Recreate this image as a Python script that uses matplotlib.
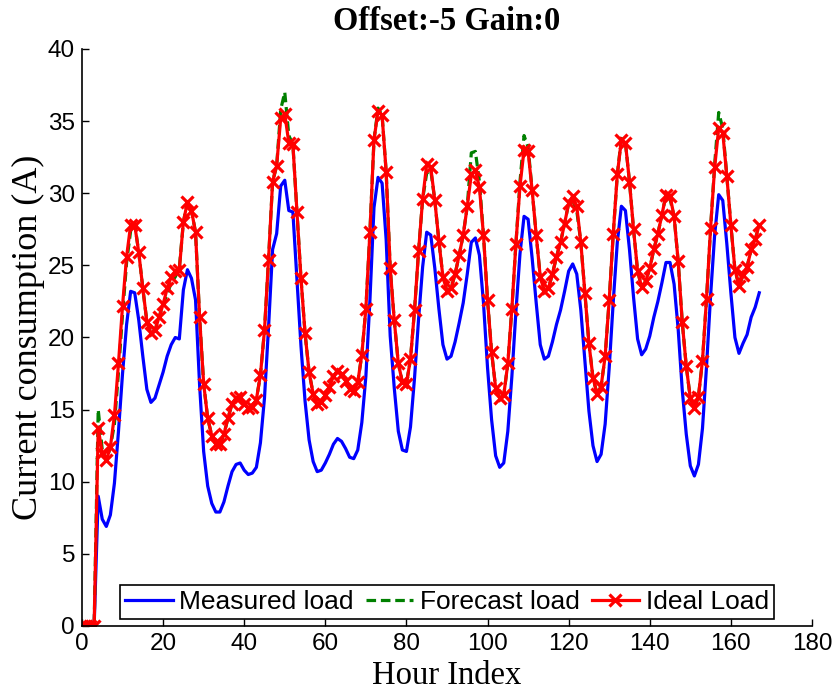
import numpy as np
import matplotlib
matplotlib.use('Agg')
import matplotlib.pyplot as plt

# hourly readings (A), hour index 0..167
measured = [0, 0, 0, 0, 9.0, 7.4, 6.9, 7.7, 9.9, 13.5,
            17.5, 20.9, 23.2, 23.1, 21.2, 18.7, 16.4, 15.5, 15.8, 16.7,
            17.6, 18.7, 19.5, 20.0, 19.9, 23.3, 24.7, 24.1, 22.6, 16.7,
            12.1, 9.7, 8.5, 7.9, 7.9, 8.6, 9.7, 10.7, 11.2, 11.3,
            10.8, 10.5, 10.6, 11.0, 12.7, 15.8, 20.7, 26.1, 27.2, 30.5,
            30.9, 28.8, 28.7, 24.0, 19.4, 15.6, 12.9, 11.4, 10.7, 10.8,
            11.3, 11.9, 12.6, 13.0, 12.8, 12.3, 11.7, 11.6, 12.2, 14.1,
            17.3, 22.6, 29.0, 31.1, 30.7, 26.8, 20.1, 16.5, 13.5, 12.2,
            12.1, 13.8, 17.2, 21.3, 24.9, 27.3, 27.1, 24.8, 22.0, 19.5,
            18.5, 18.7, 19.7, 21.0, 22.4, 24.4, 26.6, 26.9, 25.7, 22.4,
            17.9, 14.3, 11.8, 11.0, 11.3, 13.5, 17.3, 21.8, 25.8, 28.4,
            28.2, 25.5, 22.4, 19.5, 18.5, 18.7, 19.7, 20.9, 21.9, 23.2,
            24.6, 25.1, 24.4, 21.9, 18.4, 14.9, 12.5, 11.4, 11.9, 14.0,
            17.9, 22.5, 26.6, 29.1, 28.8, 26.1, 22.8, 19.9, 18.8, 19.2,
            20.1, 21.4, 22.5, 23.8, 25.2, 25.2, 23.7, 20.6, 16.4, 13.3,
            11.1, 10.4, 11.2, 13.7, 18.0, 22.9, 27.1, 29.9, 29.5, 26.5,
            23.1, 20.0, 18.9, 19.6, 20.2, 21.4, 22.1, 23.1]

forecast = [0, 0, 0, 0, 15.0, 12.2, 11.5, 12.4, 14.0, 17.6,
            21.6, 25.2, 27.4, 27.9, 25.9, 23.4, 21.1, 20.3, 20.5, 21.4,
            22.3, 23.0, 23.8, 24.2, 24.8, 28.0, 29.4, 28.8, 27.3, 21.4,
            16.8, 14.4, 13.2, 12.6, 12.6, 13.3, 14.4, 15.4, 15.8, 15.9,
            15.4, 15.1, 15.2, 15.7, 17.4, 20.5, 25.4, 30.8, 31.9, 35.8,
            37.0, 34.0, 33.4, 28.7, 24.1, 20.3, 17.6, 16.1, 15.4, 15.5,
            16.0, 16.6, 17.3, 17.7, 17.5, 17.0, 16.4, 16.3, 16.9, 18.8,
            22.0, 27.3, 33.7, 35.9, 35.4, 31.5, 24.8, 21.2, 18.2, 16.9,
            16.8, 18.5, 21.9, 26.0, 29.6, 31.4, 31.6, 29.5, 26.7, 24.2,
            23.2, 23.4, 24.4, 25.7, 27.1, 29.1, 32.8, 32.9, 30.8, 27.1,
            22.6, 19.0, 16.5, 15.8, 16.0, 18.2, 22.0, 26.5, 30.8, 34.0,
            33.2, 30.2, 27.1, 24.2, 23.2, 23.4, 24.4, 25.6, 26.6, 27.9,
            29.3, 29.5, 28.8, 26.6, 23.1, 19.6, 17.2, 16.1, 16.6, 18.7,
            22.6, 27.2, 31.3, 33.8, 33.5, 30.8, 27.5, 24.6, 23.5, 23.9,
            24.8, 26.1, 27.2, 28.5, 29.9, 29.6, 28.4, 25.3, 21.1, 18.0,
            15.8, 15.1, 15.9, 18.4, 22.7, 27.6, 32.0, 35.6, 34.5, 31.2,
            27.8, 24.7, 23.6, 24.3, 24.9, 26.1, 26.8, 27.8]

ideal = [0, 0, 0, 0, 13.7, 12.0, 11.5, 12.4, 14.6, 18.2,
         22.2, 25.6, 27.8, 27.8, 25.9, 23.4, 21.1, 20.3, 20.5, 21.4,
         22.3, 23.4, 24.2, 24.6, 24.7, 28.0, 29.4, 28.8, 27.3, 21.4,
         16.8, 14.4, 13.2, 12.6, 12.6, 13.3, 14.4, 15.4, 15.8, 15.9,
         15.4, 15.1, 15.2, 15.7, 17.4, 20.5, 25.4, 30.8, 31.9, 35.2,
         35.5, 33.5, 33.4, 28.7, 24.1, 20.3, 17.6, 16.1, 15.4, 15.5,
         16.0, 16.6, 17.3, 17.7, 17.5, 17.0, 16.4, 16.3, 16.9, 18.8,
         22.0, 27.3, 33.7, 35.7, 35.4, 31.5, 24.8, 21.2, 18.2, 16.9,
         16.8, 18.5, 21.9, 26.0, 29.6, 32.0, 31.8, 29.5, 26.7, 24.2,
         23.2, 23.4, 24.4, 25.7, 27.1, 29.1, 31.3, 31.6, 30.4, 27.1,
         22.6, 19.0, 16.5, 15.8, 16.0, 18.2, 22.0, 26.5, 30.5, 33.0,
         32.9, 30.2, 27.1, 24.2, 23.2, 23.4, 24.4, 25.6, 26.6, 27.9,
         29.3, 29.8, 29.1, 26.6, 23.1, 19.6, 17.2, 16.1, 16.6, 18.7,
         22.6, 27.2, 31.3, 33.7, 33.5, 30.8, 27.5, 24.6, 23.5, 23.9,
         24.8, 26.1, 27.2, 28.5, 29.9, 29.8, 28.4, 25.3, 21.1, 18.0,
         15.8, 15.1, 15.9, 18.4, 22.7, 27.6, 31.8, 34.5, 34.2, 31.2,
         27.8, 24.7, 23.6, 24.3, 24.9, 26.1, 26.8, 27.8]

hours = np.arange(len(ideal))

serif = ['Liberation Serif', 'DejaVu Serif']
sans = ['Liberation Sans', 'DejaVu Sans']

fig = plt.figure(figsize=(8.34, 6.93), dpi=100)
ax = fig.add_axes([0.0983, 0.0967, 0.8753, 0.8326])

ax.plot(hours, measured, color='#0000ff', lw=2.3, label='Measured load')
ax.plot(hours, forecast, color='#008000', lw=2.3, ls='--', dashes=(3, 1.5),
        label='Forecast load')
ax.plot(hours, ideal, color='#ff0000', lw=2.3, marker='x', ms=8.5, mew=2.3,
        label='Ideal Load')

ax.set_xlim(0, 180)
ax.set_ylim(0, 40)
ax.set_xticks(np.arange(0, 181, 20))
ax.set_yticks(np.arange(0, 41, 5))
ax.tick_params(direction='in', length=5, width=1, labelsize=17.5, pad=5)
for lab in ax.get_xticklabels() + ax.get_yticklabels():
    lab.set_family(sans)
ax.spines['top'].set_visible(False)
ax.spines['right'].set_visible(False)
ax.spines['left'].set_linewidth(1.2)
ax.spines['bottom'].set_linewidth(1.2)

ax.set_title('Offset:-5 Gain:0', family=serif, fontweight='bold', fontsize=23.5, pad=14)
ax.set_xlabel('Hour Index', family=serif, fontsize=23.5, labelpad=4)
ax.set_ylabel('Current consumption (A)', family=serif, fontsize=26, labelpad=2)

leg = ax.legend(loc='lower center', ncol=3, prop={'family': sans, 'size': 19},
                fancybox=False, framealpha=1, edgecolor='black',
                borderaxespad=0.25, handlelength=1.8, columnspacing=0.45,
                handletextpad=0.25, borderpad=0.2)
leg.get_frame().set_linewidth(1.2)

fig.savefig('out.png', dpi=100)
